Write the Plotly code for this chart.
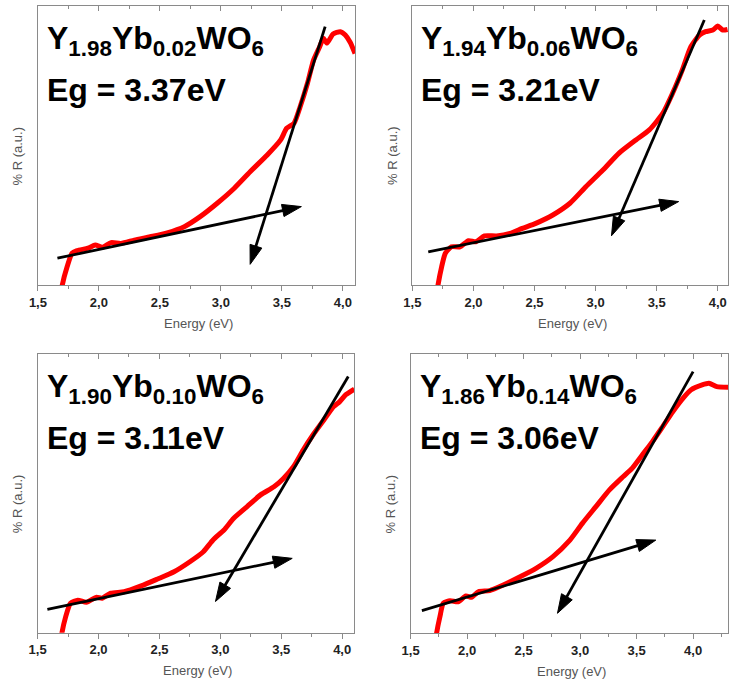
import plotly.graph_objects as go

W, H = 729, 683

# Reflectance spectra of Y(2-x)Yb(x)WO6, % R (a.u.) against photon energy (eV)
energy_198 = [1.69, 1.70, 1.74, 1.78, 1.82, 1.91, 1.97, 2.03, 2.10, 2.18, 2.29, 2.42, 2.56, 2.70,
              2.83, 2.97, 3.11, 3.24, 3.38, 3.49, 3.54, 3.60, 3.65, 3.71, 3.76, 3.81, 3.84,
              3.87, 3.92, 3.98, 4.02, 4.06, 4.10]
refl_198 = [-3, 0, 6.6, 11.4, 12.3, 13.2, 14.3, 13.5, 15.2, 14.9, 16.1, 17.3, 18.7, 20.9,
            24.5, 29.3, 34.7, 40.6, 46.6, 52.0, 56.2, 58.0, 63.9, 72.3, 80.6, 85.4, 88.4,
            86.7, 90.0, 90.8, 89.6, 87.0, 83.0]

energy_194 = [1.70, 1.71, 1.74, 1.77, 1.82, 1.89, 1.96, 2.02, 2.09, 2.19, 2.30, 2.40, 2.51, 2.65,
              2.79, 2.92, 3.06, 3.19, 3.33, 3.44, 3.55, 3.63, 3.71, 3.78, 3.85, 3.90, 3.96,
              4.00, 4.04, 4.08]
refl_194 = [-3, 0, 6.6, 11.4, 13.7, 13.7, 15.9, 15.5, 17.6, 17.6, 18.5, 20.3, 22.1, 25.1,
            29.3, 35.2, 41.2, 47.2, 52.0, 55.6, 61.5, 68.7, 77.1, 85.4, 89.6, 90.8, 91.4,
            92.8, 91.4, 91.6]

energy_190 = [1.69, 1.70, 1.73, 1.77, 1.83, 1.90, 1.98, 2.03, 2.10, 2.21, 2.35, 2.48, 2.62, 2.75,
              2.86, 2.94, 3.03, 3.11, 3.22, 3.33, 3.44, 3.52, 3.60, 3.68, 3.76, 3.85, 3.93,
              3.98, 4.03, 4.10]
refl_190 = [-3, 0, 5.7, 10.6, 11.7, 10.9, 12.7, 12.4, 14.2, 14.7, 16.8, 19.2, 21.9, 25.5,
            29.1, 33.3, 36.9, 41.1, 45.3, 49.5, 52.4, 55.5, 59.6, 65.6, 71.0, 76.4, 81.2,
            83.0, 85.5, 87.5]

energy_186 = [1.72, 1.73, 1.76, 1.79, 1.85, 1.92, 1.99, 2.04, 2.10, 2.20, 2.32, 2.46, 2.61, 2.76,
              2.91, 3.02, 3.14, 3.26, 3.38, 3.46, 3.55, 3.64, 3.73, 3.82, 3.91, 3.98, 4.08,
              4.14, 4.21, 4.31]
refl_186 = [-3, 0, 6.0, 10.8, 11.7, 11.3, 13.4, 12.9, 14.9, 15.3, 17.3, 20.1, 23.3, 27.5,
            33.4, 39.4, 45.4, 51.4, 56.1, 59.1, 63.9, 68.7, 74.0, 79.4, 84.2, 87.2, 89.0,
            89.6, 88.4, 88.2]

# Composition subscripts and band gaps (eV)
y_content = ["1.98", "1.94", "1.90", "1.86"]
yb_content = ["0.02", "0.06", "0.10", "0.14"]
band_gap = [3.37, 3.21, 3.11, 3.06]

# Baseline tangent: (E tail, R tail, E head, R head)
base_tangent = [(1.66, 9.6, 3.66, 28.1), (1.63, 11.9, 3.68, 29.9),
                (1.58, 8.4, 3.59, 26.7), (1.60, 8.1, 3.67, 33.4)]
# Edge tangent: (E tail, R tail, E head); it crosses the baseline at the band gap
edge_tangent = [(3.855, 92.6, 3.24), (3.89, 95.0, 3.13),
                (4.05, 92.0, 2.96), (4.00, 93.8, 2.80)]

x_ranges = [[1.5, 4.1], [1.5, 4.084], [1.5, 4.1], [1.5, 4.309]]

spectra = [(energy_198, refl_198), (energy_194, refl_194),
           (energy_190, refl_190), (energy_186, refl_186)]

# Plot-area boxes in pixels: left, right, top, bottom
boxes = [(37, 355, 6, 285), (412.5, 729, 6, 285),
         (36.7, 354.3, 354.3, 632.7), (410.7, 729, 354.3, 633.3)]

FONT = "Liberation Sans, Arial, sans-serif"
FRAME = "#8a8a8a"


def px(x):
    # horizontal pixel position on the page -> paper fraction
    return max(0.0, min(1.0, (x - 8) / (W - 8)))


def py(y):
    return 1 - y / H


def arrow_trace(xs, ys, xa, ya):
    return go.Scatter(x=xs, y=ys, mode="lines+markers", xaxis=xa, yaxis=ya,
                      cliponaxis=False, showlegend=False, hoverinfo="skip",
                      line=dict(color="black", width=2.8),
                      marker=dict(symbol="arrow", size=[0, 20], angleref="previous",
                                  color="black", opacity=1,
                                  line=dict(width=1, color="black")))


fig = go.Figure()
annotations = []

for i in range(4):
    n = i + 1
    xa, ya = ("x" if n == 1 else f"x{n}"), ("y" if n == 1 else f"y{n}")
    top_axis = f"x{n + 4}"
    l, r, t, b = boxes[i]
    e, refl = spectra[i]

    fig.add_trace(go.Scatter(x=e, y=refl, mode="lines", xaxis=xa, yaxis=ya,
                             line=dict(color="#ff0000", width=5, shape="spline",
                                       smoothing=0.6),
                             showlegend=False, hoverinfo="skip"))

    # baseline tangent arrow
    e0, v0, e1, v1 = base_tangent[i]
    fig.add_trace(arrow_trace([e0, e1], [v0, v1], xa, ya))

    # absorption-edge tangent arrow through the band-gap crossing
    eg = band_gap[i]
    v_cross = v0 + (v1 - v0) * (eg - e0) / (e1 - e0)
    s0, w0, s1 = edge_tangent[i]
    slope = (w0 - v_cross) / (s0 - eg)
    w1 = v_cross + slope * (s1 - eg)
    fig.add_trace(arrow_trace([s0, s1], [w0, w1], xa, ya))

    xdom = [px(l), px(r)]
    ydom = [py(b), py(t)]
    fig.layout[f"xaxis{'' if n == 1 else n}"] = dict(
        domain=xdom, anchor=ya, range=x_ranges[i], showgrid=False, zeroline=False,
        showline=True, linecolor=FRAME, linewidth=1.3, mirror=True,
        ticks="outside", ticklen=5, tickwidth=1.2, tickcolor=FRAME,
        tick0=1.5, dtick=0.5, tickformat=".1f",
        minor=dict(ticks="outside", ticklen=3, dtick=0.25, tickcolor=FRAME, tickwidth=1.2),
        tickfont=dict(family=FONT, size=13, color="#222222", weight="bold"),
    )
    fig.layout[f"xaxis{n + 4}"] = dict(
        overlaying=xa, anchor=ya, side="top", range=x_ranges[i], showgrid=False,
        zeroline=False, showline=False, showticklabels=False,
        ticks="inside", ticklen=5, tickwidth=1.2, tickcolor=FRAME, tick0=1.5, dtick=0.5,
        minor=dict(ticks="inside", ticklen=3, dtick=0.25, tickcolor=FRAME, tickwidth=1.2),
    )
    fig.layout[f"yaxis{'' if n == 1 else n}"] = dict(
        domain=ydom, anchor=xa, range=[0, 100], showgrid=False, zeroline=False,
        showline=True, linecolor=FRAME, linewidth=1.3, mirror=True,
        ticks="", showticklabels=False,
    )
    fig.add_trace(go.Scatter(x=[None], y=[None], xaxis=top_axis, yaxis=ya,
                             showlegend=False, hoverinfo="skip"))

    # composition and band gap labels
    annotations.append(dict(
        x=px(l + 7), y=py(t + 12), xref="paper", yref="paper", xanchor="left", yanchor="top",
        showarrow=False,
        text=f"<b>Y<sub>{y_content[i]}</sub>Yb<sub>{yb_content[i]}</sub>WO<sub>6</sub></b>",
        font=dict(family=FONT, size=32, color="black")))
    annotations.append(dict(
        x=px(l + 7), y=py(t + 64), xref="paper", yref="paper", xanchor="left", yanchor="top",
        showarrow=False, text=f"<b>Eg = {eg:.2f}eV</b>",
        font=dict(family=FONT, size=32, color="black")))

    # axis titles
    annotations.append(dict(
        x=px((l + min(r, 729)) / 2 + 2), y=py(b + 38), xref="paper", yref="paper",
        xanchor="center", yanchor="middle", showarrow=False, text="Energy (eV)",
        font=dict(family=FONT, size=13, color="#555555")))
    annotations.append(dict(
        x=px(l - 20), y=py((t + b) / 2 + 10), xref="paper", yref="paper",
        xanchor="center", yanchor="middle", showarrow=False, text="% R (a.u.)",
        textangle=-90, font=dict(family=FONT, size=13, color="#555555")))

fig.update_layout(
    width=W, height=H, margin=dict(l=0, r=0, t=0, b=0),
    paper_bgcolor="white", plot_bgcolor="white",
    separators=",.", showlegend=False, annotations=annotations,
)

fig.write_html("out.html")
